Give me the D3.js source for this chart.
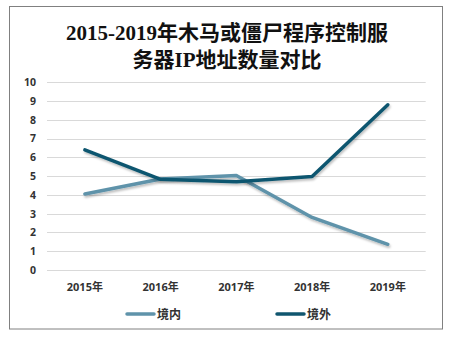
<!DOCTYPE html>
<html><head><meta charset="utf-8">
<script src="https://cdn.jsdelivr.net/npm/d3@7"></script>
<style>body{margin:0;background:#fff}svg{display:block}</style>
</head><body>
<script>
const years = ["2015年","2016年","2017年","2018年","2019年"];
const domestic = [4.05, 4.85, 5.03, 2.8, 1.37];
const foreign = [6.4, 4.83, 4.7, 4.98, 8.8];
const yTicks = [0,1,2,3,4,5,6,7,8,9,10];
const seriesNames = ["境内","境外"];
const colors = ["#5f93aa","#10566f"];

const W=473,H=339;
const svg=d3.select("body").append("svg").attr("width",W).attr("height",H);
const defs=svg.append("defs");
const f=defs.append("filter").attr("id","sh").attr("x","-10%").attr("y","-10%").attr("width","120%").attr("height","130%");
f.append("feDropShadow").attr("dx",1).attr("dy",2).attr("stdDeviation",1.2).attr("flood-color","#000").attr("flood-opacity",0.25);

svg.append("rect").attr("x",9.5).attr("y",6.5).attr("width",433).attr("height",322.5)
  .attr("fill","#fff").attr("stroke","#808080").attr("stroke-width",1);

const title=svg.append("text").attr("text-anchor","middle").attr("font-family","'Liberation Serif','DejaVu Serif','Noto Sans CJK SC',serif")
  .attr("font-size",21).attr("font-weight","bold").attr("fill","#111");
title.append("tspan").attr("x",227).attr("y",40).text("2015-2019年木马或僵尸程序控制服");
title.append("tspan").attr("x",227).attr("y",67).text("务器IP地址数量对比");

const x=d3.scaleBand().domain(years).range([47,425.7]);
const y=d3.scaleLinear().domain([0,10]).range([270,82.3]);

svg.append("g").selectAll("line").data(yTicks).join("line")
  .attr("x1",47).attr("x2",425.7).attr("y1",d=>Math.round(y(d))+0.5).attr("y2",d=>Math.round(y(d))+0.5)
  .attr("stroke","#d9d9d9").attr("stroke-width",1);

const yAxis=svg.append("g").attr("transform","translate(40,0)")
  .call(d3.axisLeft(y).tickValues(yTicks).tickSize(0).tickPadding(0).tickFormat(d3.format("d")));
yAxis.select(".domain").remove();
yAxis.selectAll("text").attr("font-family","'Open Sans','Noto Sans CJK SC',sans-serif").attr("font-size",10.5).attr("font-weight","bold").attr("fill","#333").attr("dx","-4");

const xAxis=svg.append("g").attr("transform","translate(0,283)")
  .call(d3.axisBottom(x).tickSize(0).tickPadding(0));
xAxis.select(".domain").remove();
xAxis.selectAll("text").attr("font-family","'Open Sans','Noto Sans CJK SC',sans-serif").attr("font-size",11).attr("font-weight","bold").attr("fill","#333");

const line=d3.line().x((d,i)=>x(years[i])+x.bandwidth()/2).y(d=>y(d));
[domestic,foreign].forEach((s,k)=>{
  svg.append("path").datum(s).attr("d",line).attr("fill","none").attr("stroke",colors[k])
    .attr("stroke-width",3.5).attr("stroke-linejoin","round").attr("stroke-linecap","round").attr("filter","url(#sh)");
});

const legX=[127,277];
seriesNames.forEach((n,k)=>{
  svg.append("line").attr("x1",legX[k]).attr("x2",legX[k]+27).attr("y1",314).attr("y2",314)
    .attr("stroke",colors[k]).attr("stroke-width",3.5).attr("stroke-linecap","round");
  svg.append("text").attr("x",legX[k]+30).attr("y",318.5).text(n)
    .attr("font-family","'Noto Sans CJK SC',sans-serif").attr("font-size",12).attr("font-weight","bold").attr("fill","#333");
});
</script>
</body></html>
